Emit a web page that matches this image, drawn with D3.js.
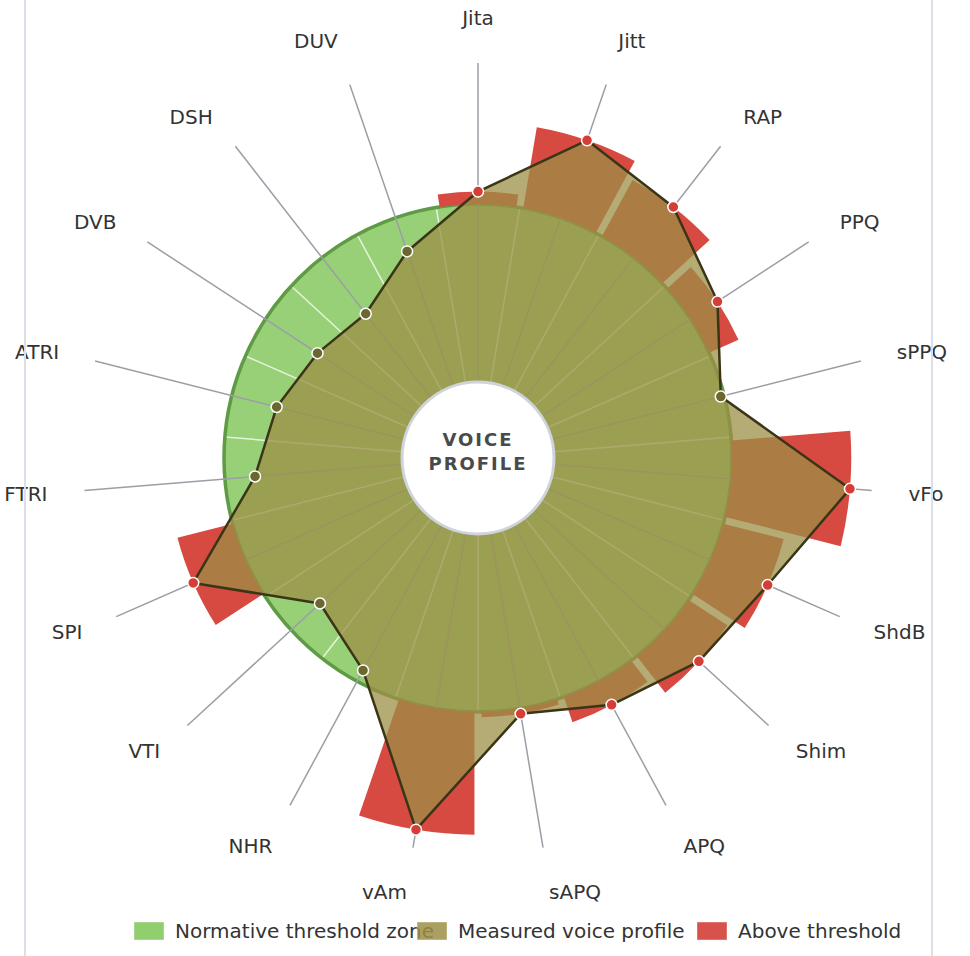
<!DOCTYPE html>
<html>
<head>
<meta charset="utf-8">
<script src="https://cdn.jsdelivr.net/npm/d3@7"></script>
<style>
body{margin:0;background:#fff;}
svg{display:block;font-family:"DejaVu Sans",sans-serif;}
</style>
</head>
<body>
<div id="chart"></div>
<script>
// datos: valor medido relativo al umbral normativo (1 = umbral)
var categories = ['Jita','Jitt','RAP','PPQ','sPPQ','vFo','ShdB','Shim','APQ','sAPQ',
                  'vAm','NHR','VTI','SPI','FTRI','ATRI','DVB','DSH','DUV'];
var values = [1.07,1.46,1.36,1.18,0.98,1.67,1.35,1.26,1.15,1.03,
              1.69,0.93,0.78,1.32,0.83,0.74,0.65,0.60,0.80];
var threshold = 1;
var legendLabels = ['Normative threshold zone','Measured voice profile','Above threshold'];

var width = 970, height = 956
var cx = 478, cy = 458
var innerR = 76, threshR = 254, spokeR = 395, labelR = 432
var step = 2 * Math.PI / categories.length

var svg = d3.select('#chart')
    .append('svg')
    .attr('width', width)
    .attr('height', height);

var g = svg.append('g').attr('transform', 'translate(' + cx + ',' + cy + ')');

// escala radial
var scaleR = d3.scaleLinear()
    .domain([0, threshold])
    .range([innerR, threshR]);

var angle = function(i){ return i * step };

// zona normativa
g.append('path')
    .attr('d', d3.arc().innerRadius(innerR).outerRadius(threshR).startAngle(0).endAngle(2 * Math.PI)())
    .attr('fill', '#98d078');

// separadores entre categorias
g.append('g').selectAll('line')
    .data(categories)
    .enter()
    .append('line')
    .attr('x1', (d, i) => innerR * Math.sin(angle(i + 0.5)))
    .attr('y1', (d, i) => -innerR * Math.cos(angle(i + 0.5)))
    .attr('x2', (d, i) => threshR * Math.sin(angle(i + 0.5)))
    .attr('y2', (d, i) => -threshR * Math.cos(angle(i + 0.5)))
    .attr('stroke', '#ffffff')
    .attr('stroke-opacity', 0.75)
    .attr('stroke-width', 1.5);

g.append('circle')
    .attr('r', threshR)
    .attr('fill', 'none')
    .attr('stroke', '#5f9a45')
    .attr('stroke-width', 3.5);

// radios (spokes)
g.append('g').selectAll('line')
    .data(categories)
    .enter()
    .append('line')
    .attr('x1', (d, i) => innerR * Math.sin(angle(i)))
    .attr('y1', (d, i) => -innerR * Math.cos(angle(i)))
    .attr('x2', (d, i) => spokeR * Math.sin(angle(i)))
    .attr('y2', (d, i) => -spokeR * Math.cos(angle(i)))
    .attr('stroke', '#9a9ea6')
    .attr('stroke-width', 1.5);

// cuñas por encima del umbral
var wedge = d3.arc()
    .innerRadius(scaleR(threshold))
    .outerRadius((d) => scaleR(d.v))
    .startAngle((d) => angle(d.i) - step / 2)
    .endAngle((d) => angle(d.i) + step / 2)
    .padAngle(0.028)
    .padRadius(threshR);

var above = values.map((v, i) => ({v: v, i: i})).filter((d) => d.v > threshold);

g.append('g').selectAll('path')
    .data(above)
    .enter()
    .append('path')
    .attr('d', wedge)
    .attr('fill', '#d64a41');

// perfil medido
var radial = d3.lineRadial()
    .angle((d, i) => angle(i))
    .radius((d) => scaleR(d))
    .curve(d3.curveLinearClosed);

g.append('path')
    .datum(values)
    .attr('d', radial)
    .attr('fill', '#9c8f45')
    .attr('fill-opacity', 0.75)
    .attr('stroke', '#3a3517')
    .attr('stroke-width', 2.5)
    .attr('stroke-linejoin', 'round');

// puntos
g.append('g').selectAll('circle')
    .data(values)
    .enter()
    .append('circle')
    .attr('cx', (d, i) => scaleR(d) * Math.sin(angle(i)))
    .attr('cy', (d, i) => -scaleR(d) * Math.cos(angle(i)))
    .attr('r', 5.5)
    .attr('fill', (d) => d > threshold ? '#d63d36' : '#6b682f')
    .attr('stroke', '#ffffff')
    .attr('stroke-width', 1.5);

// circulo central
g.append('circle')
    .attr('r', innerR)
    .attr('fill', '#ffffff')
    .attr('stroke', '#cfd3dc')
    .attr('stroke-width', 3);

g.append('text')
    .attr('y', -12)
    .attr('text-anchor', 'middle')
    .attr('font-size', '18px')
    .attr('font-weight', 'bold')
    .attr('letter-spacing', '2px')
    .attr('fill', '#4a4a4a')
    .text('VOICE');

g.append('text')
    .attr('y', 12)
    .attr('text-anchor', 'middle')
    .attr('font-size', '18px')
    .attr('font-weight', 'bold')
    .attr('letter-spacing', '2px')
    .attr('fill', '#4a4a4a')
    .text('PROFILE');

// etiquetas
g.append('g').selectAll('text')
    .data(categories)
    .enter()
    .append('text')
    .attr('x', (d, i) => labelR * Math.sin(angle(i)))
    .attr('y', (d, i) => -labelR * Math.cos(angle(i)))
    .attr('dy', function(d, i){
        var c = Math.cos(angle(i));
        return c > 0.85 ? -8 : (c < -0.85 ? 8 : 0);
    })
    .attr('dominant-baseline', 'central')
    .attr('text-anchor', function(d, i){
        var s = Math.sin(angle(i));
        return Math.abs(s) < 0.05 ? 'middle' : (s > 0 ? 'start' : 'end');
    })
    .attr('font-size', '20px')
    .attr('fill', '#333')
    .text((d) => d);

// leyenda
var legendColor = d3.scaleOrdinal()
    .domain(legendLabels)
    .range(['#7cc655', '#9c8f45', '#d0342a']);
var legendX = [134, 417, 697];

var legend = svg.append('g').selectAll('g')
    .data(legendLabels)
    .enter()
    .append('g')
    .attr('transform', (d, i) => 'translate(' + legendX[i] + ',922)');

legend.append('rect')
    .attr('width', 30)
    .attr('height', 18)
    .attr('fill', (d) => legendColor(d))
    .attr('fill-opacity', 0.85)
    .attr('stroke', '#ffffff')
    .attr('stroke-opacity', 0.4);

legend.append('text')
    .attr('x', 41)
    .attr('y', 9)
    .attr('dominant-baseline', 'central')
    .attr('font-size', '20px')
    .attr('fill', '#333')
    .text((d) => d);

// marco
[25, 932].forEach(function(x){
    svg.append('line')
        .attr('x1', x).attr('x2', x)
        .attr('y1', 0).attr('y2', height)
        .attr('stroke', '#dcdfe7')
        .attr('stroke-width', 2);
});
</script>
</body>
</html>
